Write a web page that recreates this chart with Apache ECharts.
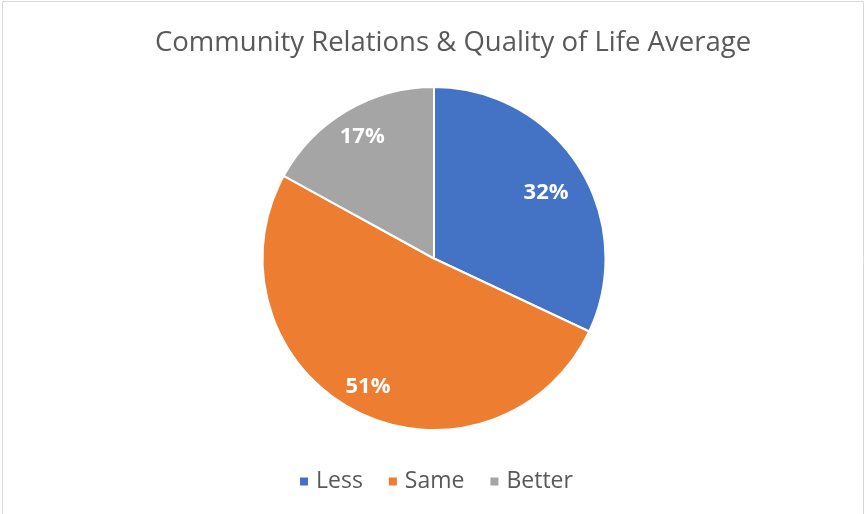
<!DOCTYPE html>
<html>
<head>
<meta charset="utf-8">
<script src="https://cdn.jsdelivr.net/npm/echarts@6/dist/echarts.min.js"></script>
<style>
  html, body { margin: 0; padding: 0; background: #fff; }
  #chart { width: 865px; height: 514px; }
</style>
</head>
<body>
<div id="chart"></div>
<script>
// Survey responses: how community relations & quality of life changed
const categories = ['Less', 'Same', 'Better'];
const shares = [32, 51, 17];
const colors = ['#4472C4', '#ED7D31', '#A5A5A5'];
// small nudges for the percentage labels
const labelOffsets = [[-7, 10], [-2, 3], [0, 0]];

const pieData = categories.map((name, i) => ({ name, value: shares[i] }));
const labelData = categories.map((name, i) => ({
  name, value: shares[i], label: { offset: labelOffsets[i] }
}));

const chart = echarts.init(document.getElementById('chart'), null, { renderer: 'canvas' });
const font = '"Open Sans", "Noto Sans", sans-serif';

chart.setOption({
  animation: false,
  color: colors,
  title: {
    text: 'Community Relations & Quality of Life Average',
    left: 150,
    top: 24,
    textStyle: { fontFamily: font, fontSize: 27.5, fontWeight: 'normal', color: '#595959' }
  },
  legend: {
    bottom: 16,
    left: 293,
    icon: 'rect',
    itemWidth: 10,
    itemHeight: 10,
    itemGap: 24,
    textStyle: { fontFamily: font, fontSize: 23, color: '#595959', padding: [0, 0, 0, 2] },
    data: categories
  },
  graphic: [{
    type: 'rect',
    shape: { x: 2.5, y: 1.5, width: 861, height: 520 },
    style: { fill: 'none', stroke: '#D9D9D9', lineWidth: 1 },
    silent: true
  }],
  series: [
    {
      // visible slices
      type: 'pie',
      center: [434, 258.5],
      radius: [0, 171.5],
      startAngle: 90,
      clockwise: true,
      data: pieData,
      label: { show: false },
      labelLine: { show: false },
      itemStyle: { borderColor: '#fff', borderWidth: 2 },
      emphasis: { disabled: true }
    },
    {
      // transparent ring used only to place the percentage labels further out
      type: 'pie',
      center: [434, 258.5],
      radius: [0, 276],
      startAngle: 90,
      clockwise: true,
      silent: true,
      data: labelData,
      itemStyle: { color: 'rgba(0,0,0,0)' },
      label: {
        show: true,
        position: 'inside',
        formatter: p => p.value + '%',
        fontFamily: font,
        fontSize: 22,
        fontWeight: 'bold',
        color: '#fff'
      },
      labelLine: { show: false },
      emphasis: { disabled: true }
    }
  ]
});
</script>
</body>
</html>
